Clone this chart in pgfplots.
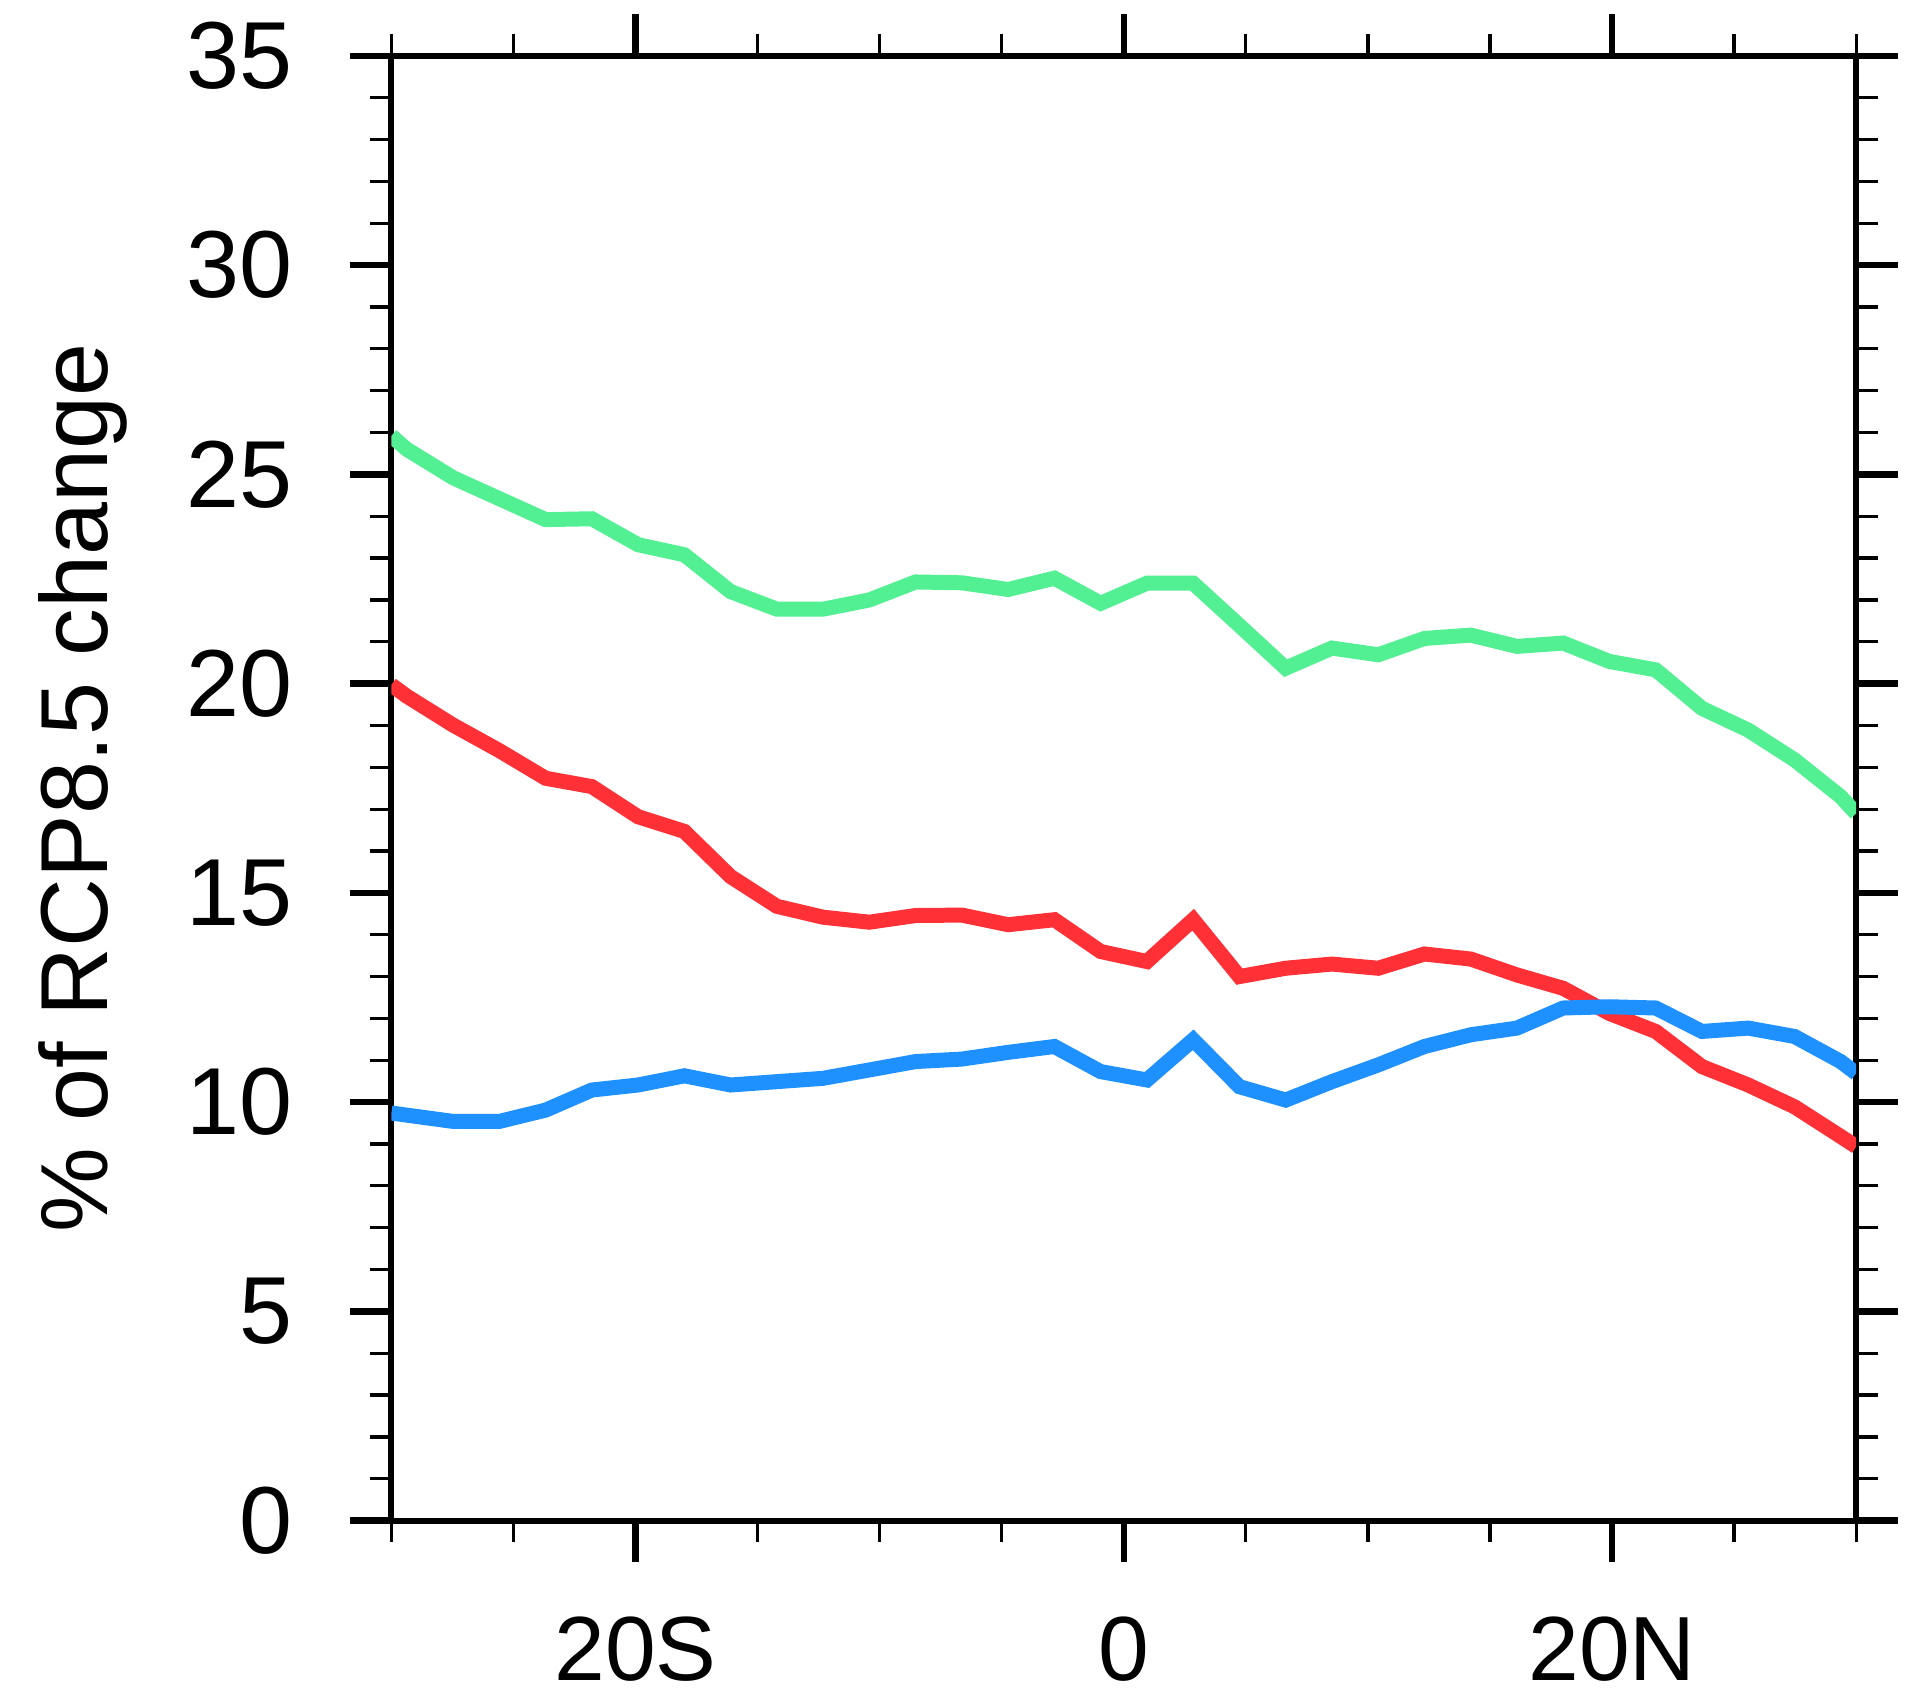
\documentclass[border=0pt]{standalone}
\usepackage{pgfplots}
\pgfplotsset{compat=1.18}
\usepackage{fontspec}
\setmainfont{Liberation Sans}
\definecolor{cgreen}{RGB}{82,240,146}
\definecolor{cred}{RGB}{255,48,54}
\definecolor{cblue}{RGB}{30,144,255}
\begin{document}
\begin{tikzpicture}
\begin{axis}[
  name=ax,
  scale only axis, width=361.5pt, height=361.5pt,
  xmin=-30, xmax=30, ymin=0, ymax=35,
  axis line style={line width=1.5pt},
  tick align=outside, tick pos=both,
  xtick={-20,0,20}, xticklabels={20S,0,20N},
  minor xtick={-30,-25,-15,-10,-5,5,10,15,25,30},
  ytick={0,5,10,15,20,25,30,35},
  minor ytick={1,2,3,4,6,7,8,9,11,12,13,14,16,17,18,19,21,22,23,24,26,27,28,29,31,32,33,34},
  major tick length=10.3pt, minor tick length=5.3pt,
  major tick style={line width=1.6pt, black},
  minor tick style={line width=0.8pt, black},
  /pgf/number format/assume math mode=true,
  xticklabel style={font=\fontsize{22.5}{26}\selectfont, yshift=-10pt},
  yticklabel style={font=\fontsize{23.5}{28}\selectfont, xshift=-10.7pt},
  every axis y label/.style={at={(axis description cs:-0.2108,0.5)}, rotate=90, anchor=center},
  ylabel={\% of RCP8.5 change},
  ylabel style={font=\fontsize{23.5}{28}\selectfont},
  every axis plot/.append style={line width=3.7pt},
]
\addplot[cgreen] coordinates {
(-30,25.92) (-29.368,25.6) (-27.474,24.92) (-25.579,24.42) (-23.684,23.92) (-21.789,23.94)
(-19.895,23.32) (-18.0,23.08) (-16.105,22.2) (-14.211,21.78) (-12.316,21.78) (-10.421,22.0)
(-8.526,22.43) (-6.632,22.41) (-4.737,22.25) (-2.842,22.52) (-0.947,21.92) (0.947,22.40)
(2.842,22.40) (4.737,21.39) (6.632,20.37) (8.526,20.85) (10.421,20.69) (12.316,21.08)
(14.211,21.16) (16.105,20.89) (18.0,20.97) (19.895,20.53) (21.789,20.33) (23.684,19.41)
(25.579,18.89) (27.474,18.18) (29.368,17.3) (30,16.9)
};
\addplot[cred] coordinates {
(-30,19.97) (-29.368,19.7) (-27.474,19.01) (-25.579,18.4) (-23.684,17.74) (-21.789,17.54)
(-19.895,16.82) (-18.0,16.47) (-16.105,15.39) (-14.211,14.68) (-12.316,14.42) (-10.421,14.3)
(-8.526,14.46) (-6.632,14.47) (-4.737,14.24) (-2.842,14.36) (-0.947,13.60) (0.947,13.36)
(2.842,14.36) (4.737,13.0) (6.632,13.20) (8.526,13.30) (10.421,13.20) (12.316,13.54)
(14.211,13.42) (16.105,13.04) (18.0,12.72) (19.895,12.12) (21.789,11.69) (23.684,10.85)
(25.579,10.41) (27.474,9.89) (29.368,9.18) (30,8.94)
};
\addplot[cblue] coordinates {
(-30,9.74) (-29.368,9.69) (-27.474,9.54) (-25.579,9.54) (-23.684,9.81) (-21.789,10.29)
(-19.895,10.41) (-18.0,10.63) (-16.105,10.41) (-14.211,10.49) (-12.316,10.57) (-10.421,10.77)
(-8.526,10.97) (-6.632,11.03) (-4.737,11.19) (-2.842,11.33) (-0.947,10.73) (0.947,10.53)
(2.842,11.49) (4.737,10.37) (6.632,10.05) (8.526,10.49) (10.421,10.89) (12.316,11.33)
(14.211,11.61) (16.105,11.77) (18.0,12.25) (19.895,12.28) (21.789,12.25) (23.684,11.69)
(25.579,11.77) (27.474,11.57) (29.368,10.97) (30,10.69)
};
\end{axis}
\pgfresetboundingbox
\path[use as bounding box] ([xshift=-96.6pt,yshift=-44.4pt]ax.south west) rectangle ([xshift=12.3pt,yshift=13.8pt]ax.north east);
\end{tikzpicture}
\end{document}
